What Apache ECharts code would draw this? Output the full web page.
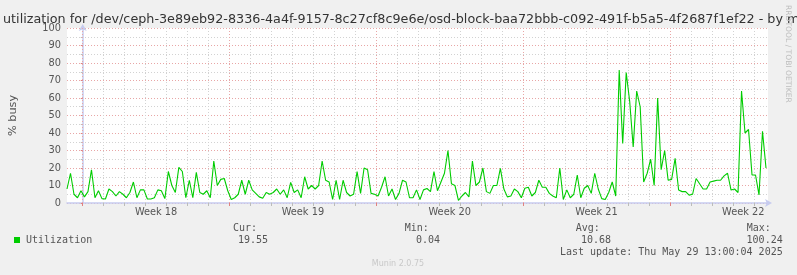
<!DOCTYPE html>
<html><head><meta charset="utf-8">
<script src="https://cdn.jsdelivr.net/npm/echarts@6/dist/echarts.min.js"></script>
<style>html,body{margin:0;padding:0;background:#f0f0f0;}#c{width:797px;height:275px;}</style>
</head><body><div id="c"></div>
<script>
// ---- data ----
const titleText = 'Disk utilization for /dev/ceph-3e89eb92-8336-4a4f-9157-8c27cf8c9e6e/osd-block-baa72bbb-c092-491f-b5a5-4f2687f1ef22 - by month';
const startHour = -18;   // hours relative to the start of Week 18
const stepHours = 4;
const utilization = [
  8, 17, 5, 3, 7, 3.5, 6.5, 19, 3, 7, 2.5, 2.3, 8, 6.5, 4, 6.5, 5, 3, 6, 12,
  3, 7.5, 7.5, 2.3, 2.3, 3, 7.5, 7, 2.5, 18, 10, 6, 20.4, 18, 3, 13, 3, 17.5, 6, 5,
  7, 3, 24, 10, 13.5, 14, 7, 2, 3, 5, 13,
  5, 13, 7.5, 5.5, 3.5, 2.7, 6, 5, 6, 8, 5, 7.5, 3, 11.8, 6, 7.5, 3, 15, 8, 10,
  8, 10, 24, 13, 12, 2, 13, 2, 13, 6, 4, 5, 18, 5.5, 20, 19, 5.5, 5, 4, 9,
  15, 4, 8, 2, 5.5, 13, 12, 3, 3, 7.5,
  2, 7.5, 8.3, 6.5, 18, 7, 12, 17, 30, 11, 10, 1.5, 4, 6, 3.5, 24, 10, 12, 20, 6.5,
  5.5, 10, 10, 19.8, 8, 3.5, 4, 8, 6.5, 3, 8.4, 9, 4, 6, 13, 9, 9, 5.5, 4, 3,
  20, 2, 7.5, 3, 5, 16, 3, 8.4, 10, 5.5, 17,
  8, 2.5, 2, 6, 12, 4, 76, 34, 74.5, 58, 32, 64, 55, 12, 17, 25, 10, 60, 19, 30,
  13, 13.5, 25.5, 7.4, 6.5, 6.5, 4.5, 5, 14, 11, 8, 8, 12, 12.5, 13, 13, 15.5, 17, 7.4, 8,
  6, 64, 40, 42, 16, 16, 4.6, 41, 20
];
const dayTicks = [0,24,48,72,96,120,144,168,192,216,240,264,288,312,336,360,384,408,432,456,480,504,528,552,576,600,624,648,672,696,720,744,768];
const weekStarts = [0,168,336,504,672];
const weekLabelPos = [84,252,420,588,756];
const weekLabels = ['Week 18','Week 19','Week 20','Week 21','Week 22'];
const seriesName = 'Utilization';
const statNames = ['Cur:','Min:','Avg:','Max:'];
const statValues = ['19.55','0.04','10.68','100.24'];
const lastUpdate = 'Last update: Thu May 29 13:00:04 2025';
const yAxisName = '% busy';
const watermark = 'RRDTOOL / TOBI OETIKER';
const version = 'Munin 2.0.75';

// ---- chart ----
const GREEN = '#00cc00';
const RED = '#e8a6a6';
const GRAY = '#d2d2d2';
const AXIS = '#c6cbef';
const TXT = '#555555';
const sans = '"DejaVu Sans"';
const mono = '"DejaVu Sans Mono"';
const xMin = -18, xMax = -18 + 702 / 0.875;
const lblMap = {}; weekLabelPos.forEach((p, i) => lblMap[p] = weekLabels[i]);
const dayOnly = dayTicks.filter(v => weekStarts.indexOf(v) < 0);
const seriesData = utilization.map((v, i) => [startHour + stepHours * i, v]);

const chart = echarts.init(document.getElementById('c'), null, {renderer: 'canvas'});
const statX = [[233, 268], [404.7, 440], [575.7, 611], [746.7, 782.7]];
const graphics = [
  {type: 'text', x: 400, y: 19.5, style: {text: titleText, font: '12.75px ' + sans, fill: '#333', align: 'center', verticalAlign: 'middle'}},
  {type: 'text', x: 788, y: 5, rotation: -Math.PI / 2, style: {text: watermark, font: '7.6px ' + sans, fill: '#bdbdbd', align: 'left', verticalAlign: 'middle'}},
  {type: 'rect', shape: {x: 14, y: 237, width: 6, height: 6}, style: {fill: GREEN}},
  {type: 'text', x: 26, y: 240, style: {text: seriesName, font: '10px ' + mono, fill: TXT, align: 'left', verticalAlign: 'middle'}},
  {type: 'text', x: 782.7, y: 252, style: {text: lastUpdate, font: '10px ' + mono, fill: TXT, align: 'right', verticalAlign: 'middle'}},
  {type: 'text', x: 398, y: 263.5, style: {text: version, font: '8px ' + sans, fill: '#c8c8c8', align: 'center', verticalAlign: 'middle'}}
];
statNames.forEach((n, i) => {
  graphics.push({type: 'text', x: statX[i][0], y: 228, style: {text: n, font: '10px ' + mono, fill: TXT, align: 'left', verticalAlign: 'middle'}});
  graphics.push({type: 'text', x: statX[i][1], y: 240, style: {text: statValues[i], font: '10px ' + mono, fill: TXT, align: 'right', verticalAlign: 'middle'}});
});

const gridLines = dayOnly.map(v => ({xAxis: v, lineStyle: {color: GRAY, type: [1, 2], width: 1}}))
  .concat(weekStarts.map(v => ({xAxis: v, lineStyle: {color: RED, type: [1, 2], width: 1}})));

chart.setOption({
  backgroundColor: '#f0f0f0',
  animation: false,
  grid: {left: 66, right: 29, top: 28, bottom: 72, show: true, backgroundColor: '#ffffff', borderWidth: 0},
  xAxis: [{
    type: 'value', min: xMin, max: xMax,
    axisLine: {show: true, lineStyle: {color: AXIS, width: 1.5}, symbol: ['none', 'arrow'], symbolSize: [6, 7], symbolOffset: [0, 4]},
    axisTick: {show: true, customValues: dayTicks, length: 3, lineStyle: {color: '#bbbbbb'}},
    axisLabel: {show: true, customValues: weekLabelPos, formatter: v => lblMap[v] || '', color: TXT, fontFamily: sans, fontSize: 9.8, margin: 4},
    splitLine: {show: false}
  }, {
    type: 'value', min: xMin, max: xMax, position: 'bottom',
    axisLine: {show: false},
    axisTick: {show: true, customValues: weekStarts, length: 3, lineStyle: {color: '#e08080'}},
    axisLabel: {show: false}, splitLine: {show: false}
  }],
  yAxis: {
    type: 'value', min: 0, max: 100, interval: 10,
    name: yAxisName, nameLocation: 'middle', nameGap: 48, nameRotate: 90,
    nameTextStyle: {color: TXT, fontFamily: sans, fontSize: 11.3},
    axisLine: {show: true, lineStyle: {color: AXIS, width: 1.5}, symbol: ['none', 'arrow'], symbolSize: [6, 7], symbolOffset: [0, 4]},
    axisTick: {show: true, length: 2, lineStyle: {color: '#e08080'}},
    minorTick: {show: true, splitNumber: 2, length: 2, lineStyle: {color: '#bbbbbb'}},
    axisLabel: {color: TXT, fontFamily: sans, fontSize: 9.8, margin: 6},
    splitLine: {show: true, lineStyle: {color: RED, type: [1, 2], width: 1}},
    minorSplitLine: {show: true, lineStyle: {color: GRAY, type: [1, 2], width: 1}}
  },
  series: [{
    type: 'line', name: 'grid', xAxisIndex: 0, data: seriesData,
    symbol: 'none', silent: true, lineStyle: {opacity: 0}, z: 1,
    markLine: {silent: true, symbol: ['none', 'none'], label: {show: false}, animation: false,
      emphasis: {disabled: true}, data: gridLines}
  }, {
    type: 'line', name: seriesName, xAxisIndex: 0, data: seriesData,
    showSymbol: false, symbol: 'none',
    lineStyle: {color: GREEN, width: 1.1}, z: 5
  }],
  graphic: graphics
});
</script></body></html>
